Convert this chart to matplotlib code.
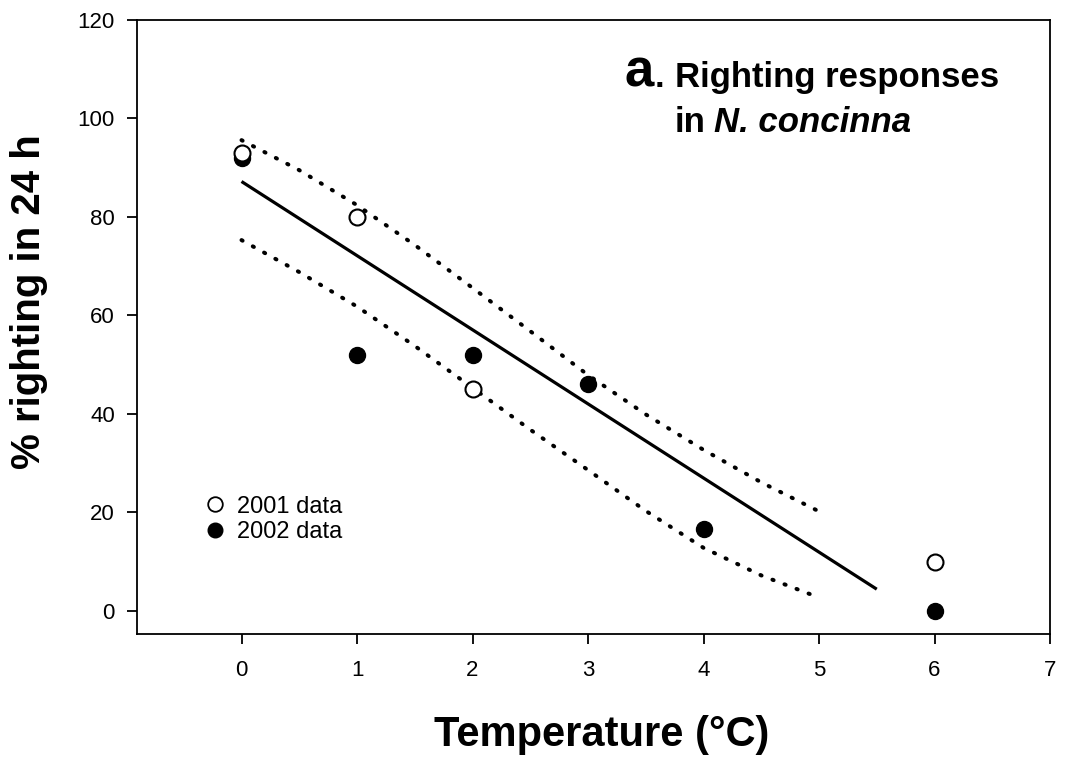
import matplotlib
matplotlib.use("Agg")
import matplotlib.pyplot as plt
from matplotlib.lines import Line2D

plt.rcParams['font.family'] = ['Liberation Sans', 'DejaVu Sans']

# Data
temp_2001 = [0, 1, 2, 6]
pct_2001 = [93, 80, 45, 10]
temp_2002 = [0, 1, 2, 3, 4, 6]
pct_2002 = [92, 52, 52, 46, 16.6, 0]

# Regression line endpoints
fit_x = [0, 5.5]
fit_y = [87.2, 4.4]

# Confidence band
band_x = [0, 0.5, 1, 1.5, 2, 2.5, 3, 3.5, 4, 4.5, 5]
band_upper = [95.6, 89.5, 82.4, 74.3, 65.6, 56.8, 47.9, 39.9, 32.7, 26.1, 20.2]
band_lower = [75.3, 68.8, 61.8, 53.8, 45.3, 36.8, 28.6, 20.3, 12.8, 7.2, 2.7]

xticks = [0, 1, 2, 3, 4, 5, 6, 7]
yticks = [0, 20, 40, 60, 80, 100, 120]

fig = plt.figure(figsize=(10.65, 7.58), dpi=100)
ax = fig.add_axes([137/1065, 1 - 634/758, (1050 - 137)/1065, (634 - 20)/758])

ax.plot(fit_x, fit_y, color='black', lw=2.3, solid_capstyle='butt')
for yb in (band_upper, band_lower):
    ax.plot(band_x, yb, color='black', lw=2.9, linestyle=(0, (0.3, 2.9)),
            dash_capstyle='round')

ax.plot(temp_2002, pct_2002, 'o', color='black', ms=11.5, zorder=3)
ax.plot(temp_2001, pct_2001, 'o', mfc='white', mec='black', mew=1.5, ms=11.5, zorder=4)

ax.set_xlim(-0.905, 7)
ax.set_ylim(-4.7, 120)
ax.set_xticks(xticks)
ax.set_yticks(yticks)
ax.tick_params(direction='out', length=7, width=1.3, labelsize=16)
ax.tick_params(axis='x', pad=12)
ax.tick_params(axis='y', pad=9)
for s in ax.spines.values():
    s.set_linewidth(1.3)

ax.set_xlabel('Temperature (°C)', fontsize=30, fontweight='bold')
ax.set_ylabel('% righting in 24 h', fontsize=29, fontweight='bold')
ax.xaxis.set_label_coords(0.509, -0.132, transform=ax.transAxes)
ax.yaxis.set_label_coords(-0.098, 0.542, transform=ax.transAxes)

handles = [
    Line2D([], [], marker='o', linestyle='none', mfc='white', mec='black', mew=1.3, ms=10.5),
    Line2D([], [], marker='o', linestyle='none', color='black', ms=10.5),
]
ax.legend(handles, ['2001 data', '2002 data'], loc='upper left',
          bbox_to_anchor=(-0.293, 23.4), bbox_transform=ax.transData,
          frameon=False, fontsize=17, handlelength=0.6, handletextpad=0.65,
          labelspacing=0.14, borderpad=0, borderaxespad=0)

ax.text(3.32, 106.4, 'a', fontsize=38, fontweight='bold', va='baseline', ha='left')
ax.text(3.58, 106.4, '.', fontsize=25, fontweight='bold', va='baseline', ha='left')
ax.text(3.75, 106.4, 'Righting responses', fontsize=25, fontweight='bold', va='baseline', ha='left')
ax.text(3.75, 97.3, 'in', fontsize=25, fontweight='bold', va='baseline', ha='left')
ax.text(4.095, 97.3, 'N. concinna', fontsize=25, fontweight='bold', style='italic',
        va='baseline', ha='left')

fig.savefig('out.png', dpi=100)
